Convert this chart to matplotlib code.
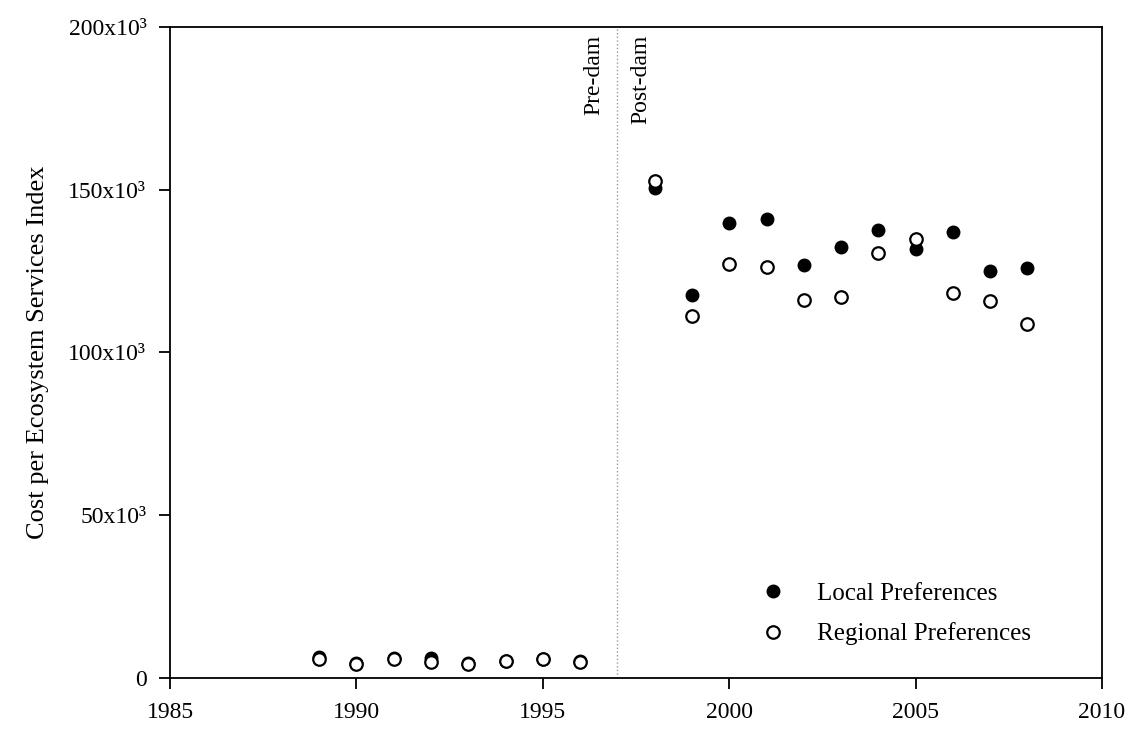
import numpy as np
import matplotlib
matplotlib.use('Agg')
import matplotlib.pyplot as plt

plt.rcParams['font.family'] = ['Liberation Serif', 'DejaVu Serif']

years = [1989, 1990, 1991, 1992, 1993, 1994, 1995, 1996,
         1998, 1999, 2000, 2001, 2002, 2003, 2004, 2005, 2006, 2007, 2008]

# cost per index, thousands
local_pref = [6.5, 4.5, 6.0, 6.2, 4.7, 5.2, 5.8, 5.2,
              150.4, 117.6, 139.7, 141.1, 126.9, 132.3, 137.5, 131.9, 137.0, 125.0, 126.0]
regional_pref = [5.7, 4.3, 5.7, 4.9, 4.2, 5.2, 5.8, 4.8,
                 152.8, 111.2, 127.3, 126.2, 116.1, 117.0, 130.6, 134.9, 118.4, 115.7, 108.8]

dam_year = 1997.0
yticks = [0, 50, 100, 150, 200]
ytick_labels = ['0', '50x10³', '100x10³', '150x10³', '200x10³']
xticks = [1985, 1990, 1995, 2000, 2005, 2010]

fig = plt.figure(figsize=(11.31, 7.29), dpi=100)
ax = fig.add_axes([0.1503, 0.07, 0.8241, 0.893])

ax.plot(years, local_pref, 'o', color='black', markersize=9, label='Local Preferences', zorder=3)
ax.plot(years, regional_pref, 'o', markerfacecolor='white', markeredgecolor='black',
        markeredgewidth=1.6, markersize=9, label='Regional Preferences', zorder=3)

ax.axvline(dam_year, color='#999999', linestyle=':', linewidth=1)
ax.text(dam_year - 0.35, 197.5, 'Pre-dam', rotation=90, ha='right', va='top', fontsize=17)
ax.text(dam_year + 0.35, 197.5, 'Post-dam', rotation=90, ha='left', va='top', fontsize=17)

ax.set_xlim(1985, 2010)
ax.set_ylim(0, 200)
ax.set_xticks(xticks)
ax.set_yticks(yticks)
ax.set_yticklabels(ytick_labels)
ax.tick_params(direction='out', length=8, width=1.3, labelsize=17, top=False, right=False, pad=9)
ax.set_ylabel('Cost per Ecosystem Services Index', fontsize=19, labelpad=14)

for s in ax.spines.values():
    s.set_linewidth(1.3)

ax.legend(loc='upper left', bbox_to_anchor=(0.634, 0.147), frameon=False, fontsize=18,
          handlelength=1, handletextpad=1.25, labelspacing=0.7,
          borderpad=0, borderaxespad=0)

plt.savefig('out.png', dpi=100)
